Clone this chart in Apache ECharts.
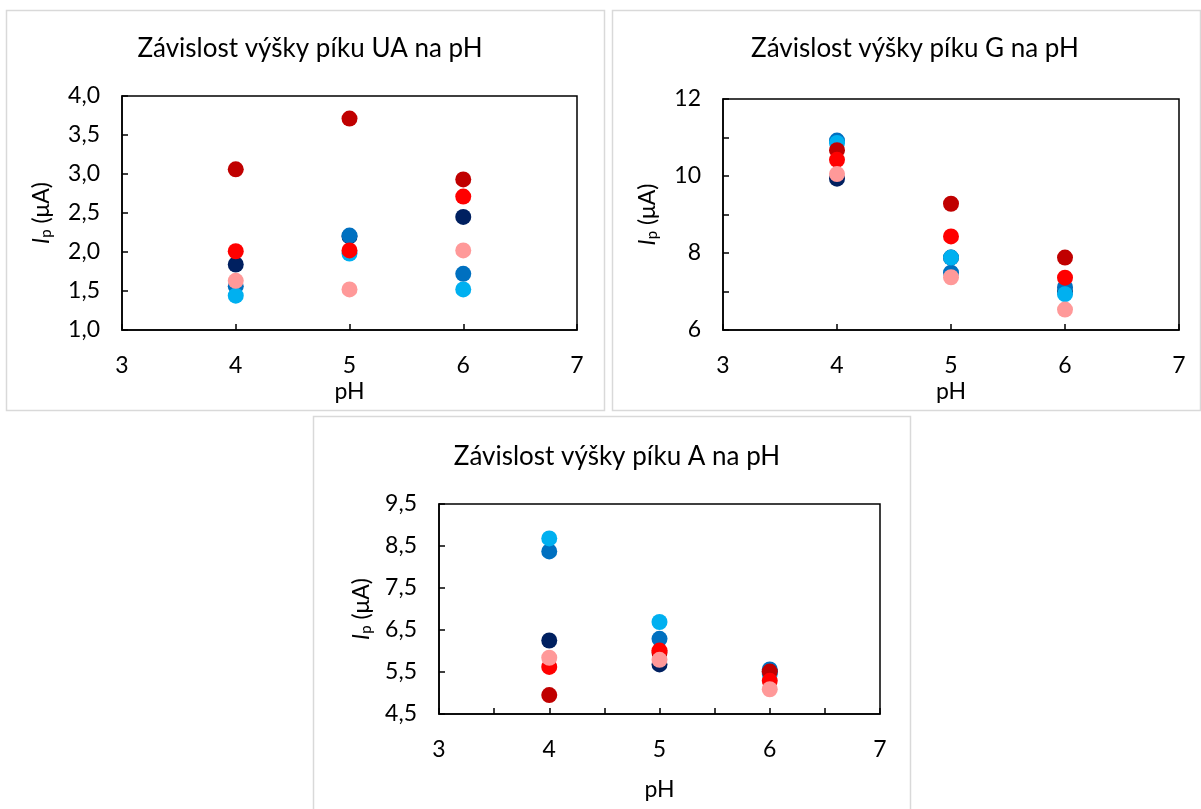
<!DOCTYPE html>
<html><head><meta charset="utf-8">
<script src="https://cdn.jsdelivr.net/npm/echarts@6/dist/echarts.min.js"></script>
<style>html,body{margin:0;padding:0;background:#fff}#c{width:1201px;height:809px}</style>
</head><body><div id="c"></div>
<script>
// pH categories
const pH = [4, 5, 6];
const seriesNames = ['S1', 'S2', 'S3', 'S4', 'S5', 'S6'];
const seriesColors = ['#002060', '#0070C0', '#00B0F0', '#C00000', '#FF0000', '#FF9999'];
// Panel UA
const UA_S1 = [1.84, 2.20, 2.45];
const UA_S2 = [1.56, 2.21, 1.72];
const UA_S3 = [1.44, 1.98, 1.52];
const UA_S4 = [3.06, 3.71, 2.93];
const UA_S5 = [2.01, 2.02, 2.71];
const UA_S6 = [1.63, 1.52, 2.02];
// Panel G
const G_S1 = [9.93, 7.88, 7.00];
const G_S2 = [10.92, 7.49, 7.11];
const G_S3 = [10.86, 7.88, 6.93];
const G_S4 = [10.67, 9.28, 7.88];
const G_S5 = [10.42, 8.43, 7.36];
const G_S6 = [10.05, 7.37, 6.53];
// Panel A
const A_S1 = [6.25, 5.68, 5.50];
const A_S2 = [8.37, 6.29, 5.56];
const A_S3 = [8.68, 6.69, 5.45];
const A_S4 = [4.95, 5.96, 5.51];
const A_S5 = [5.62, 6.01, 5.29];
const A_S6 = [5.84, 5.79, 5.09];
const titles = ['Závislost výšky píku UA na pH', 'Závislost výšky píku G na pH', 'Závislost výšky píku A na pH'];

const panelData = [
  [UA_S1, UA_S2, UA_S3, UA_S4, UA_S5, UA_S6],
  [G_S1, G_S2, G_S3, G_S4, G_S5, G_S6],
  [A_S1, A_S2, A_S3, A_S4, A_S5, A_S6]
];
const FONT = 'Lato';
const TXT = '#000';
const FS = 23;
const fmtComma = v => v.toFixed(1).replace('.', ',');

const grids = [
  {left: 122, top: 96, width: 455, height: 234},
  {left: 723, top: 99, width: 456, height: 231},
  {left: 439, top: 504, width: 441, height: 210}
];
const yCfg = [
  {min: 1, max: 4, interval: 0.5, fmt: fmtComma, gap: 68},
  {min: 6, max: 12, interval: 1, fmt: v => (Math.round(v) % 2 === 0 ? String(Math.round(v)) : ''), gap: 63},
  {min: 4.5, max: 9.5, interval: 1, fmt: fmtComma, gap: 65}
];
const xCfg = [
  {interval: 1, fmt: v => String(v), gap: 50},
  {interval: 1, fmt: v => String(v), gap: 50},
  {interval: 0.5, fmt: v => (Number.isInteger(v) ? String(v) : ''), gap: 64}
];

const xAxes = [], yAxes = [], series = [];
grids.forEach((g, i) => {
  g.show = true; g.borderColor = '#000'; g.borderWidth = 1.5; g.backgroundColor = '#fff';
  xAxes.push({
    type: 'value', gridIndex: i, min: 3, max: 7, interval: xCfg[i].interval,
    name: 'pH', nameLocation: 'middle', nameGap: xCfg[i].gap,
    nameTextStyle: {fontFamily: FONT, fontSize: FS, color: TXT},
    axisLine: {show: true, onZero: false, lineStyle: {color: '#000', width: 1.5}},
    axisTick: {show: true, inside: true, length: 6, lineStyle: {color: '#000', width: 1.5}},
    axisLabel: {formatter: xCfg[i].fmt, fontFamily: FONT, fontSize: FS, color: TXT, margin: 24},
    splitLine: {show: false}
  });
  yAxes.push({
    type: 'value', gridIndex: i, min: yCfg[i].min, max: yCfg[i].max, interval: yCfg[i].interval,
    name: '{i|I}{s|p}{n| (μA)}', nameLocation: 'middle', nameGap: yCfg[i].gap, nameRotate: 90,
    nameTextStyle: {fontFamily: FONT, fontSize: FS, color: TXT, rich: {
      i: {fontFamily: FONT, fontSize: FS, fontStyle: 'italic', color: TXT},
      s: {fontFamily: FONT, fontSize: 15, color: TXT, verticalAlign: 'bottom', padding: [10, 0, 0, 0]},
      n: {fontFamily: FONT, fontSize: FS, color: TXT}
    }},
    axisLine: {show: true, onZero: false, lineStyle: {color: '#000', width: 1.5}},
    axisTick: {show: true, inside: true, length: 6, lineStyle: {color: '#000', width: 1.5}},
    axisLabel: {formatter: yCfg[i].fmt, fontFamily: FONT, fontSize: FS, color: TXT, margin: 22},
    splitLine: {show: false}
  });
  panelData[i].forEach((vals, k) => {
    series.push({
      type: 'scatter', name: seriesNames[k], xAxisIndex: i, yAxisIndex: i,
      symbol: 'circle', symbolSize: 16,
      itemStyle: {color: seriesColors[k], opacity: 1},
      data: pH.map((x, j) => [x, vals[j]])
    });
  });
});

const titleStyle = {fontFamily: FONT, fontSize: 26, fontWeight: 'normal', color: TXT};
const chart = echarts.init(document.getElementById('c'), null, {renderer: 'canvas'});
chart.setOption({
  animation: false,
  backgroundColor: '#fff',
  title: [
    {text: titles[0], left: 305, top: 31, textAlign: 'center', textStyle: titleStyle},
    {text: titles[1], left: 910, top: 31, textAlign: 'center', textStyle: titleStyle},
    {text: titles[2], left: 612, top: 439, textAlign: 'center', textStyle: titleStyle}
  ],
  graphic: [
    {type: 'rect', z: -10, shape: {x: 6.5, y: 10.5, width: 598, height: 400}, style: {fill: 'none', stroke: '#d9d9d9', lineWidth: 1.5}},
    {type: 'rect', z: -10, shape: {x: 612.5, y: 10.5, width: 588, height: 400}, style: {fill: 'none', stroke: '#d9d9d9', lineWidth: 1.5}},
    {type: 'rect', z: -10, shape: {x: 313.5, y: 416.5, width: 597, height: 400}, style: {fill: 'none', stroke: '#d9d9d9', lineWidth: 1.5}}
  ],
  grid: grids, xAxis: xAxes, yAxis: yAxes, series: series
});
</script></body></html>
